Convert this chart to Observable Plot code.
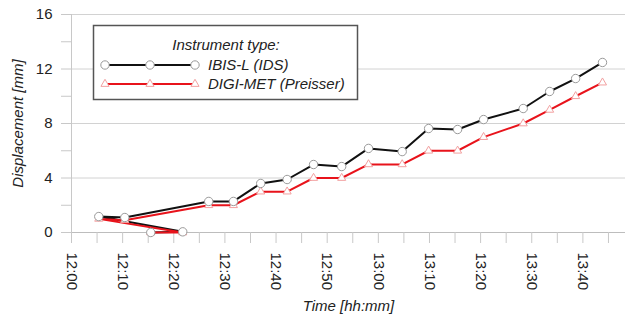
<!DOCTYPE html>
<html>
<head>
<meta charset="utf-8">
<script src="https://cdn.jsdelivr.net/npm/d3@7"></script>
<script src="https://cdn.jsdelivr.net/npm/@observablehq/plot@0.6"></script>
<style>
  html, body { margin: 0; padding: 0; background: #fff; }
  #chart { width: 625px; height: 317px; position: relative; }
  svg { font-family: "Liberation Sans", Arial, sans-serif; }
</style>
</head>
<body>
<div id="chart"></div>
<script>
// ---- data ----
const times = ["12:15:30","12:21:45","12:05:20","12:10:25","12:26:50","12:31:40","12:37:00","12:42:10","12:47:20","12:52:50","12:58:05","13:04:40","13:09:50","13:15:30","13:20:35","13:28:20","13:33:30","13:38:35","13:43:50"];
const ibisL   = [0, 0.05, 1.17, 1.1, 2.28, 2.28, 3.6, 3.89, 4.99, 4.84, 6.17, 5.94, 7.63, 7.56, 8.29, 9.1, 10.35, 11.3, 12.48];
const digiMet = [0, 0, 1.0, 0.9, 2, 2, 3, 3, 4, 4, 5, 5, 6, 6, 7, 8, 9, 10, 11];
const seriesNames = ["IBIS-L (IDS)", "DIGI-MET (Preisser)"];
const legendTitle = "Instrument type:";
const yTicks = [0, 2, 4, 6, 8, 10, 12, 14, 16];
const yLabelTicks = [0, 4, 8, 12, 16];
const xLabelTicks = ["12:00","12:10","12:20","12:30","12:40","12:50","13:00","13:10","13:20","13:30","13:40"];
const xDomain = ["12:00:00", "13:48:20"];

const toDate = s => { const [h, m, sec] = s.split(":").map(Number); return new Date(Date.UTC(2000, 0, 1, h, m, sec || 0)); };
const ibisData = times.map((t, i) => ({t: toDate(t), v: ibisL[i]}));
const digiData = times.map((t, i) => ({t: toDate(t), v: digiMet[i]}));
const dom = xDomain.map(toDate);
const minorTicks = d3.utcMinute.every(5).range(dom[0], dom[1]);
const labelTicks = xLabelTicks.map(toDate);
const fmt = d3.utcFormat("%H:%M");

const chart = Plot.plot({
  width: 625,
  height: 317,
  marginLeft: 71,
  marginRight: 0,
  marginTop: 14,
  marginBottom: 85,
  style: {fontFamily: "Liberation Sans, Arial, sans-serif", fontSize: "13px", color: "#222", background: "#fff"},
  x: {type: "utc", domain: dom},
  y: {domain: [0, 16]},
  marks: [
    Plot.ruleY([4, 8, 12, 16], {stroke: "#d2d2d2", strokeWidth: 1}),
    Plot.ruleY([0], {stroke: "#bdbdbd", strokeWidth: 1}),
    Plot.ruleX([dom[0]], {stroke: "#c8c8c8", strokeWidth: 1}),
    Plot.axisY({ticks: yTicks, tickSize: 10, tickPadding: 9, stroke: "#c8c8c8", fontSize: 15, fill: "#222",
      tickFormat: d => yLabelTicks.includes(d) ? String(d) : "", label: null}),
    Plot.axisX({ticks: minorTicks, tickSize: 11, stroke: "#c8c8c8", tickFormat: () => "", label: null}),
    Plot.axisX({ticks: labelTicks, tickSize: 0, tickPadding: 20, tickRotate: 90, fontSize: 15, fill: "#222", tickFormat: fmt, label: null}),
    Plot.line(ibisData, {x: "t", y: "v", stroke: "#111", strokeWidth: 2}),
    Plot.line(digiData, {x: "t", y: "v", stroke: "#e8131b", strokeWidth: 2}),
    Plot.dot(digiData, {x: "t", y: "v", symbol: "triangle", r: 3, stroke: "#f2a0a0", fill: "#fff", strokeWidth: 1}),
    Plot.dot(ibisData, {x: "t", y: "v", symbol: "circle", r: 4.2, stroke: "#9a9a9a", fill: "#fff", strokeWidth: 1}),
    Plot.text(["Displacement [mm]"], {frameAnchor: "left", dx: -53, rotate: -90, textAnchor: "middle", fontStyle: "italic", fontSize: 15, fill: "#222"}),
    Plot.text(["Time [hh:mm]"], {frameAnchor: "bottom", dy: 78, fontStyle: "italic", fontSize: 15, fill: "#222"})
  ]
});
document.getElementById("chart").appendChild(chart);

// ---- legend ----
const svg = d3.select(chart);
const lg = svg.append("g").attr("font-family", "Liberation Sans, Arial, sans-serif").attr("font-style", "italic").attr("font-size", 15).attr("fill", "#222").attr("text-anchor", "start");
lg.append("rect").attr("x", 93.5).attr("y", 25.5).attr("width", 264).attr("height", 74).attr("fill", "#fff").attr("stroke", "#555").attr("stroke-width", 1.5);
lg.append("text").attr("x", 226).attr("y", 50).attr("text-anchor", "middle").text(legendTitle);
const rows = [
  {name: seriesNames[0], color: "#111", sym: d3.symbolCircle, r: 4.2, ms: "#9a9a9a", y: 65},
  {name: seriesNames[1], color: "#e8131b", sym: d3.symbolTriangle, r: 3, ms: "#f2a0a0", y: 84}
];
rows.forEach(r => {
  lg.append("line").attr("x1", 105).attr("x2", 195).attr("y1", r.y).attr("y2", r.y).attr("stroke", r.color).attr("stroke-width", 2);
  [105, 150, 195].forEach(cx => {
    const area = r.sym === d3.symbolCircle ? Math.PI * r.r * r.r : r.r * r.r * 3.2;
    lg.append("path").attr("d", d3.symbol(r.sym, area)()).attr("transform", `translate(${cx},${r.y})`).attr("fill", "#fff").attr("stroke", r.ms);
  });
  lg.append("text").attr("x", 208).attr("y", r.y + 5).attr("text-anchor", "start").text(r.name);
});
</script>
</body>
</html>
